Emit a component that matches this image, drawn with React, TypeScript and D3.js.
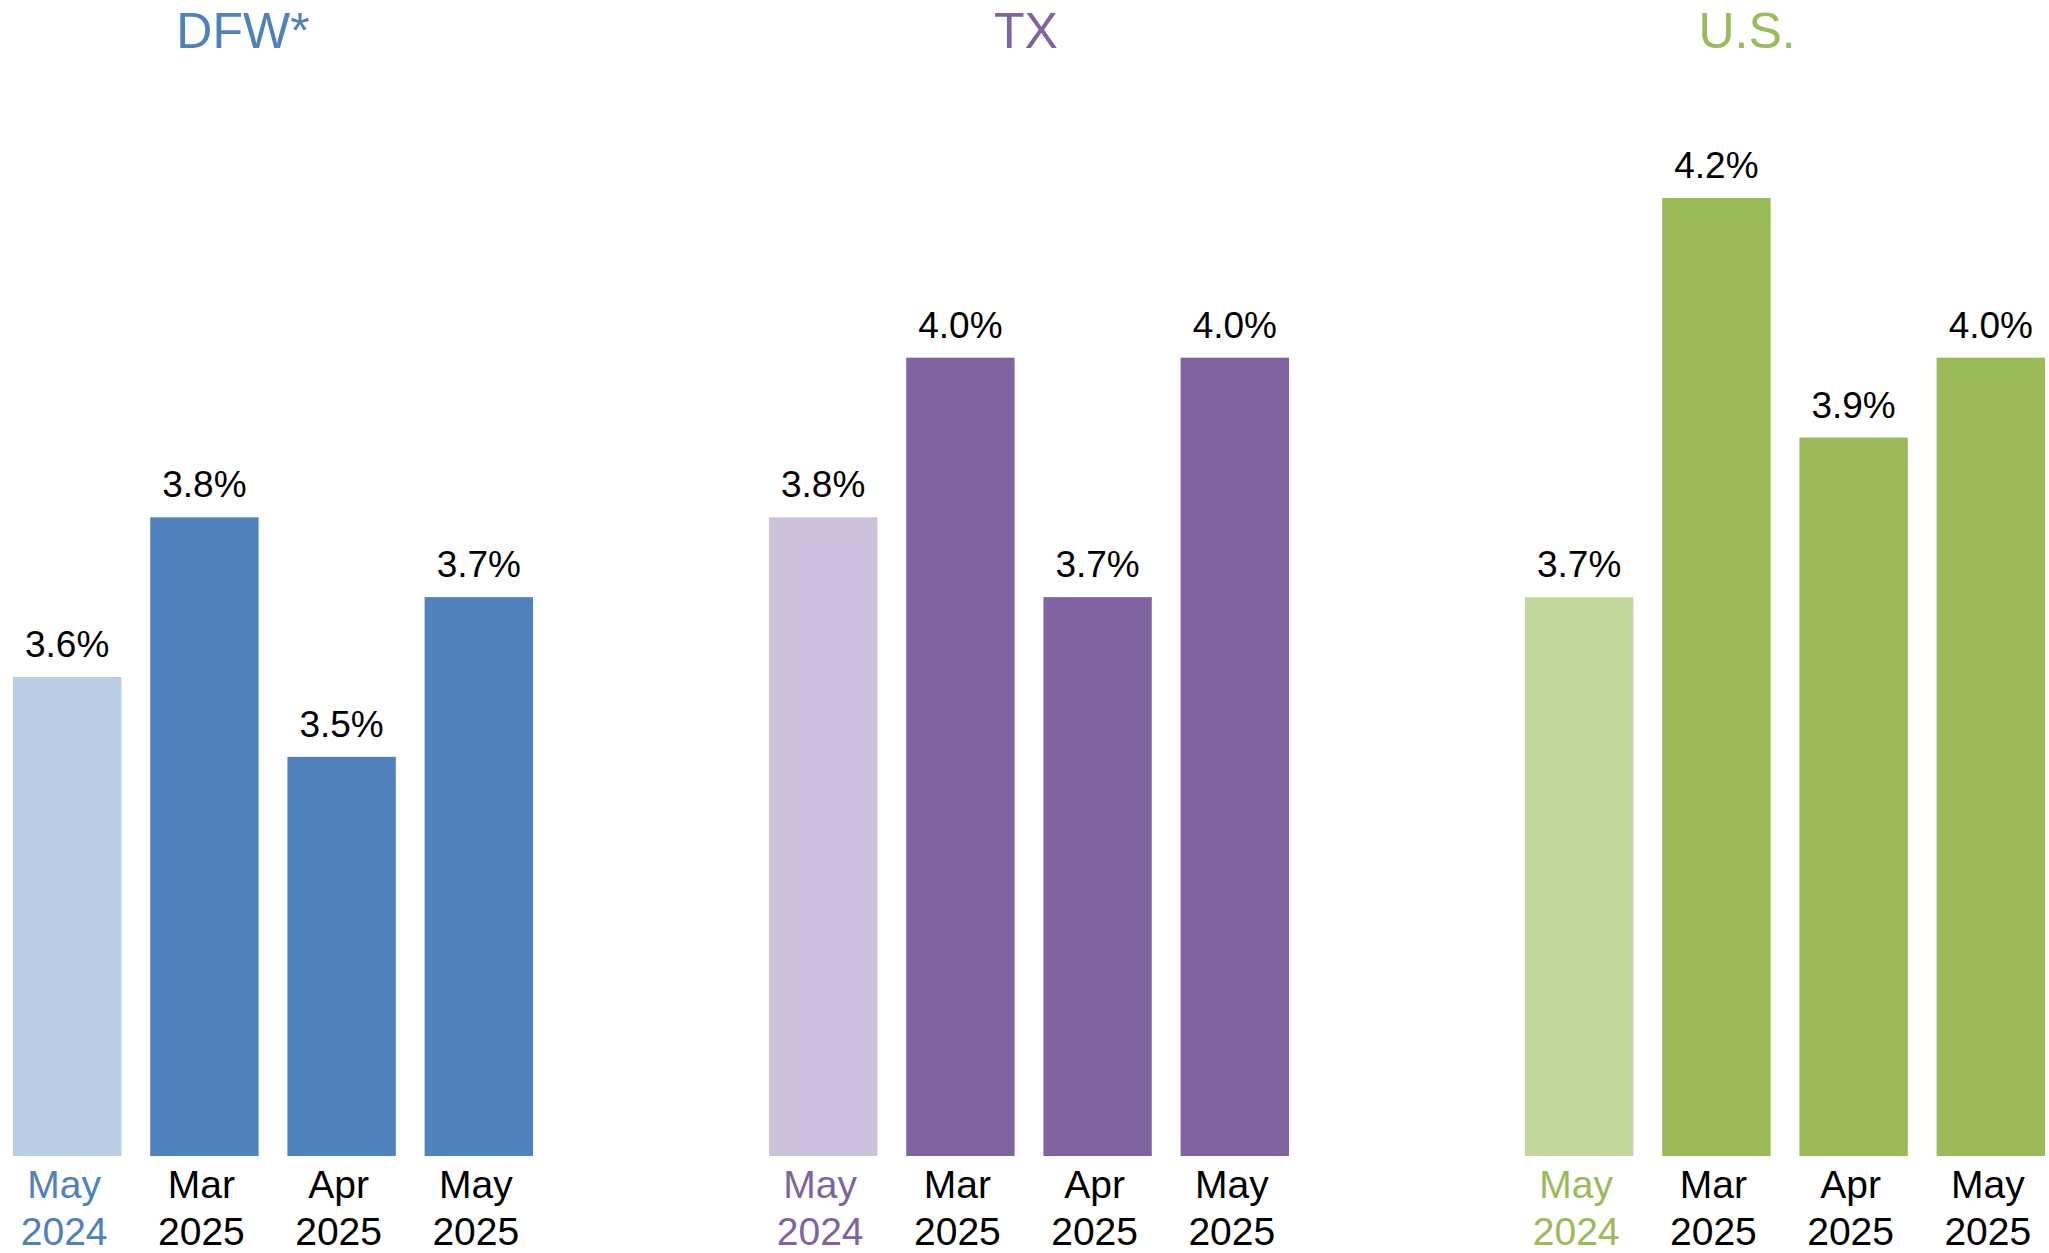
import * as d3 from 'd3';

const regions = ['DFW*', 'TX', 'U.S.'];
const periods = ['May 2024', 'Mar 2025', 'Apr 2025', 'May 2025'];
const dfwRates = [3.6, 3.8, 3.5, 3.7];
const txRates = [3.8, 4.0, 3.7, 4.0];
const usRates = [3.7, 4.2, 3.9, 4.0];
const darkColors = ['#4F81BD', '#8064A2', '#9BBB59'];
const lightColors = ['#B9CDE5', '#CCC1DA', '#C3D69B'];

const W = 2049;
const H = 1253;
const FONT = '"Liberation Sans", Arial, sans-serif';
// titles are not centred exactly over their bars in the original
const titleShift = [-30, -3, -38];

const App = () => {
    const series = [dfwRates, txRates, usRates];

    const panel = d3.scaleBand()
        .domain(regions)
        .range([13, 13 + 3 * 756]);

    const x = d3.scaleBand()
        .domain(periods)
        .range([0, 520])
        .paddingInner(0.21)
        .paddingOuter(0);

    const y = d3.scaleLinear()
        .domain([3.0, 4.2])
        .range([1156, 198]);

    const fmt = d3.format('.1f');

    return (
        <svg width={W} height={H} style={{ position: 'absolute', left: 0, top: 0, background: '#fff' }}
            fontFamily={FONT}>
            {regions.map((r, ri) => {
                const px = panel(r);
                return (
                    <g key={r} transform={`translate(${px}, 0)`}>
                        <text x={260 + titleShift[ri]} y={48} textAnchor="middle" fontSize={50}
                            fill={darkColors[ri]}>{r}</text>
                        {periods.map((p, i) => {
                            const v = series[ri][i];
                            const bx = x(p);
                            const cx = bx + x.bandwidth() / 2;
                            const [mon, yr] = p.split(' ');
                            return (
                                <g key={p}>
                                    <rect x={bx} y={y(v)} width={x.bandwidth()} height={y(3.0) - y(v)}
                                        fill={i === 0 ? lightColors[ri] : darkColors[ri]} />
                                    <text x={cx} y={y(v) - 20} textAnchor="middle" fontSize={37}
                                        fill="#000">{fmt(v)}%</text>
                                    <text x={cx} textAnchor="middle" fontSize={39}
                                        fill={i === 0 ? darkColors[ri] : '#000'}>
                                        <tspan x={cx - 3} y={1198}>{mon}</tspan>
                                        <tspan x={cx - 3} y={1245}>{yr}</tspan>
                                    </text>
                                </g>
                            );
                        })}
                    </g>
                );
            })}
        </svg>
    );
};

export default App;
